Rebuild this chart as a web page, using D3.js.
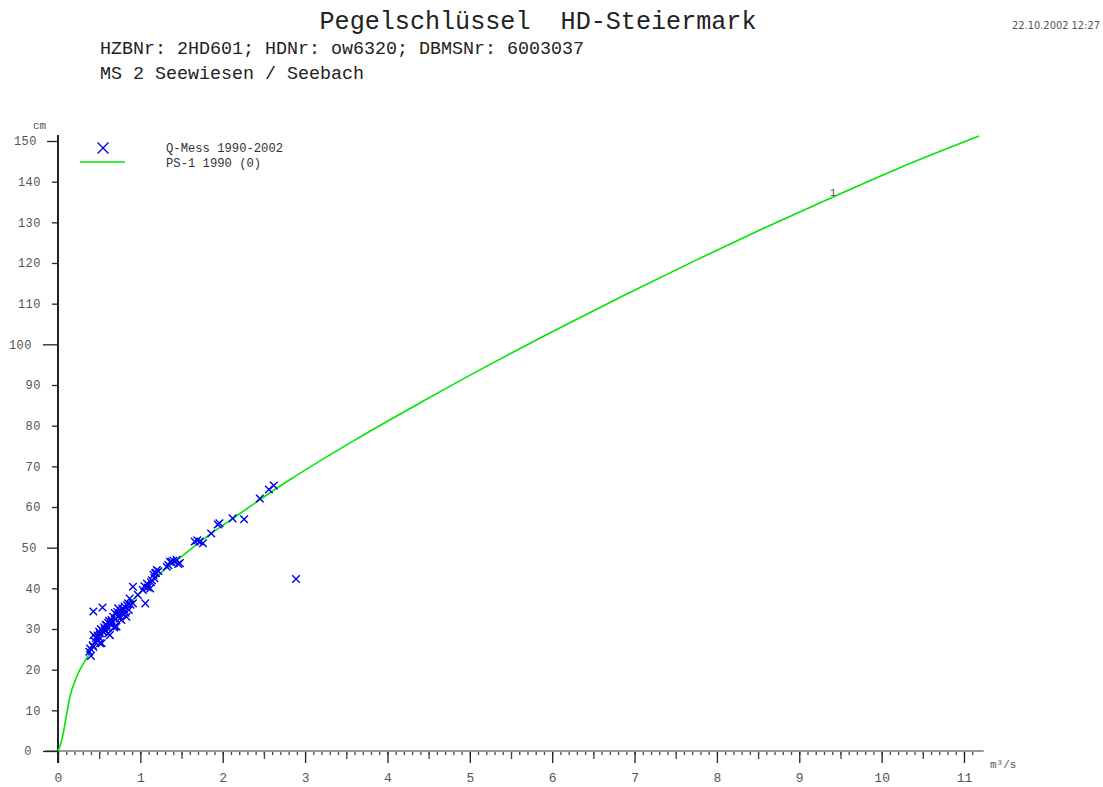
<!DOCTYPE html>
<html>
<head>
<meta charset="utf-8">
<title>Pegelschlüssel HD-Steiermark</title>
<script src="https://cdn.jsdelivr.net/npm/d3@7/dist/d3.min.js"></script>
<style>
  html, body { margin: 0; padding: 0; background: #fff; }
  svg { display: block; }
  .mono { font-family: "Liberation Mono", "DejaVu Sans Mono", monospace; white-space: pre; }
</style>
</head>
<body>
<svg id="chart" width="1103" height="787"></svg>
<script>
// Rating curve PS-1 1990: discharge (m³/s) vs. gauge height (cm)
const curveQ = [0, 0.03, 0.06, 0.10, 0.146, 0.227, 0.35, 0.43, 0.59, 0.79, 0.99, 1.20, 1.48, 1.80, 2.21, 2.61, 2.814, 3.623, 4.431, 5.240, 6.048, 6.856, 7.747, 8.554, 9.363, 10.172, 11.183];
const curveH = [0, 1.6, 4.0, 8.5, 13.4, 18.3, 22.9, 25.6, 29.8, 34.7, 38.8, 42.9, 47.5, 52.6, 58.4, 64.0, 66.7, 76.7, 86.0, 95.0, 103.6, 111.9, 120.7, 128.4, 135.8, 143.0, 151.2];

// Discharge measurements Q-Mess 1990-2002
const measQ = [0.38, 0.40, 0.39, 0.42, 0.43, 0.43, 0.43, 0.45, 0.46, 0.48, 0.49, 0.49, 0.50, 0.51, 0.51, 0.52, 0.53, 0.54, 0.54, 0.55,
               0.56, 0.57, 0.58, 0.59, 0.60, 0.61, 0.61, 0.62, 0.63, 0.64, 0.65, 0.65, 0.67, 0.68, 0.69, 0.69, 0.70, 0.71, 0.72, 0.73,
               0.74, 0.75, 0.76, 0.77, 0.78, 0.79, 0.80, 0.81, 0.82, 0.83, 0.84, 0.85, 0.86, 0.87, 0.88, 0.91, 0.91, 0.97, 1.03, 1.05,
               1.06, 1.08, 1.09, 1.12, 1.13, 1.14, 1.16, 1.17, 1.20, 1.19, 1.22, 1.18, 1.32, 1.34, 1.36, 1.38, 1.40, 1.44, 1.46, 1.48,
               1.66, 1.69, 1.72, 1.76, 1.86, 1.94, 1.96, 2.12, 2.26, 2.45, 2.56, 2.62, 2.89];
const measH = [24.4, 23.4, 25.2, 26.0, 25.6, 28.5, 34.3, 26.9, 27.8, 28.4, 27.3, 28.1, 29.3, 26.5, 28.9, 30.0, 26.5, 35.3, 29.5, 29.3,
               30.4, 29.8, 31.0, 31.0, 30.2, 28.9, 31.5, 32.0, 28.5, 31.2, 31.8, 32.2, 33.0, 30.4, 33.9, 30.6, 32.4, 30.6, 34.2, 35.1,
               33.3, 32.6, 34.5, 32.2, 35.0, 33.9, 34.8, 35.5, 34.0, 33.0, 35.8, 36.3, 34.7, 37.5, 36.0, 36.3, 40.4, 38.4, 39.6, 40.5,
               36.3, 41.2, 40.2, 40.0, 41.5, 42.0, 43.3, 42.5, 44.5, 43.8, 44.2, 43.7, 45.3, 45.7, 46.5, 46.5, 46.8, 47.0, 46.0, 46.2,
               51.5, 51.8, 51.5, 51.1, 53.5, 55.7, 56.0, 57.2, 57.0, 62.1, 64.3, 65.3, 42.3];

const xMajorTicks = d3.range(0, 12, 1);
const xMediumTicks = [0.5, 1.5, 2.5, 3.5, 4.5, 5.5, 6.5, 7.5, 8.5, 9.5, 10.5];
const xMinorTicks = d3.range(0, 112).map(i => i / 10);
const yLabelTicks = d3.range(0, 160, 10);
const yMediumTicks = [50, 150];
const yMajorTicks = [0, 100];

const titleText = "Pegelschlüssel  HD-Steiermark";
const subtitle1 = "HZBNr: 2HD601; HDNr: ow6320; DBMSNr: 6003037";
const subtitle2 = "MS 2 Seewiesen / Seebach";
const stampText = "22.10.2002 12:27";
const legendLabels = ["Q-Mess 1990-2002", "PS-1 1990 (0)"];

const svg = d3.select("#chart");
const x = d3.scaleLinear().domain([0, 11]).range([58, 964]);
const y = d3.scaleLinear().domain([0, 150]).range([751, 141]);
const xEnd = x(11.24);

const monoFont = '"Liberation Mono", "DejaVu Sans Mono", monospace';
const axisText = "#555";
const lineGreen = "#00e600";
const markBlue = "#0000ee";

// Header
svg.append("text").attr("class", "mono").attr("x", 538).attr("y", 29)
  .attr("text-anchor", "middle").attr("font-size", 25).attr("fill", "#222")
  .attr("textLength", 437).attr("lengthAdjust", "spacingAndGlyphs").text(titleText);
svg.append("text").attr("class", "mono").attr("x", 100).attr("y", 54)
  .attr("font-size", 18).attr("fill", "#222")
  .attr("textLength", 484).attr("lengthAdjust", "spacingAndGlyphs").text(subtitle1);
svg.append("text").attr("class", "mono").attr("x", 100).attr("y", 79)
  .attr("font-size", 18).attr("fill", "#222")
  .attr("textLength", 264).attr("lengthAdjust", "spacingAndGlyphs").text(subtitle2);
svg.append("text").attr("x", 1012).attr("y", 29)
  .attr("font-family", '"Liberation Sans Narrow", "DejaVu Sans Condensed", sans-serif')
  .attr("font-size", 10).attr("fill", "#555")
  .attr("textLength", 88).attr("lengthAdjust", "spacingAndGlyphs").text(stampText);

// X axis: minor (0.1), medium (0.5) and major (1) ticks
function styleAxis(g, color) {
  g.select(".domain").remove();
  g.selectAll(".tick line").attr("stroke", color).attr("stroke-width", 1.3);
  g.selectAll(".tick text").attr("fill", axisText).attr("font-family", monoFont).attr("font-size", 12);
}
const xg = svg.append("g").attr("transform", `translate(0,${y(0)})`);
xg.append("g").call(d3.axisBottom(x).tickValues(xMinorTicks).tickSize(4).tickFormat(""))
  .call(g => styleAxis(g, "#444"));
xg.append("g").call(d3.axisBottom(x).tickValues(xMediumTicks).tickSize(8).tickFormat(""))
  .call(g => styleAxis(g, "#444"));
xg.append("g").call(d3.axisBottom(x).tickValues(xMajorTicks).tickSize(12).tickPadding(10).tickFormat(d3.format("d")))
  .call(g => styleAxis(g, "#222"))
  .call(g => g.selectAll(".tick text").attr("font-size", 13));
xg.append("line").attr("x1", 45).attr("x2", xEnd).attr("y1", 0).attr("y2", 0)
  .attr("stroke", "#999").attr("stroke-width", 2);

// Y axis
const yg = svg.append("g").attr("transform", `translate(${x(0)},0)`);
yg.append("g").call(d3.axisLeft(y).tickValues(yLabelTicks.filter(v => v % 50 !== 0)).tickSize(6).tickPadding(11).tickFormat(d3.format("d")))
  .call(g => styleAxis(g, "#222"));
yg.append("g").call(d3.axisLeft(y).tickValues(yMediumTicks).tickSize(11).tickPadding(10).tickFormat(d3.format("d")))
  .call(g => styleAxis(g, "#222"));
yg.append("g").call(d3.axisLeft(y).tickValues(yMajorTicks).tickSize(15).tickPadding(11).tickFormat(d3.format("d")))
  .call(g => styleAxis(g, "#222"));
yg.selectAll(".tick text").attr("letter-spacing", 0.5);
svg.append("line").attr("x1", x(0)).attr("x2", x(0)).attr("y1", y(151.5)).attr("y2", y(0) + 12)
  .attr("stroke", "#222").attr("stroke-width", 2);

// Axis units
svg.append("text").attr("class", "mono").attr("x", 33).attr("y", 129)
  .attr("font-size", 11).attr("fill", axisText).text("cm");
svg.append("text").attr("class", "mono").attr("x", 990).attr("y", 768)
  .attr("font-size", 11).attr("fill", axisText).text("m³/s");

// Rating curve
const curveData = curveQ.map((q, i) => [q, curveH[i]]);
svg.append("path").datum(curveData)
  .attr("fill", "none").attr("stroke", lineGreen).attr("stroke-width", 1.6)
  .attr("stroke-linejoin", "round")
  .attr("d", d3.line().x(d => x(d[0])).y(d => y(d[1])).curve(d3.curveMonotoneX));

// Curve number label
svg.append("text").attr("class", "mono").attr("x", x(9.41)).attr("y", y(136.2) - 1)
  .attr("text-anchor", "middle").attr("font-size", 11).attr("fill", "#555").text("1");

// Measurements
const cross = s => `M${-s},${-s}L${s},${s}M${-s},${s}L${s},${-s}`;
svg.append("g").selectAll("path").data(measQ.map((q, i) => [q, measH[i]])).join("path")
  .attr("transform", d => `translate(${x(d[0])},${y(d[1])})`)
  .attr("d", cross(3.8))
  .attr("fill", "none").attr("stroke", markBlue).attr("stroke-width", 1.4);

// Legend
const lg = svg.append("g");
lg.append("path").attr("transform", "translate(103,148)").attr("d", cross(5.5))
  .attr("fill", "none").attr("stroke", markBlue).attr("stroke-width", 1.4);
lg.append("line").attr("x1", 80).attr("x2", 125).attr("y1", 162).attr("y2", 162)
  .attr("stroke", lineGreen).attr("stroke-width", 1.6);
lg.selectAll("text.leg").data(legendLabels).join("text").attr("class", "leg")
  .attr("x", 166).attr("y", (d, i) => 152 + i * 14.5)
  .attr("font-family", monoFont).attr("font-size", 12.2).attr("fill", "#333")
  .text(d => d);
</script>
</body>
</html>
